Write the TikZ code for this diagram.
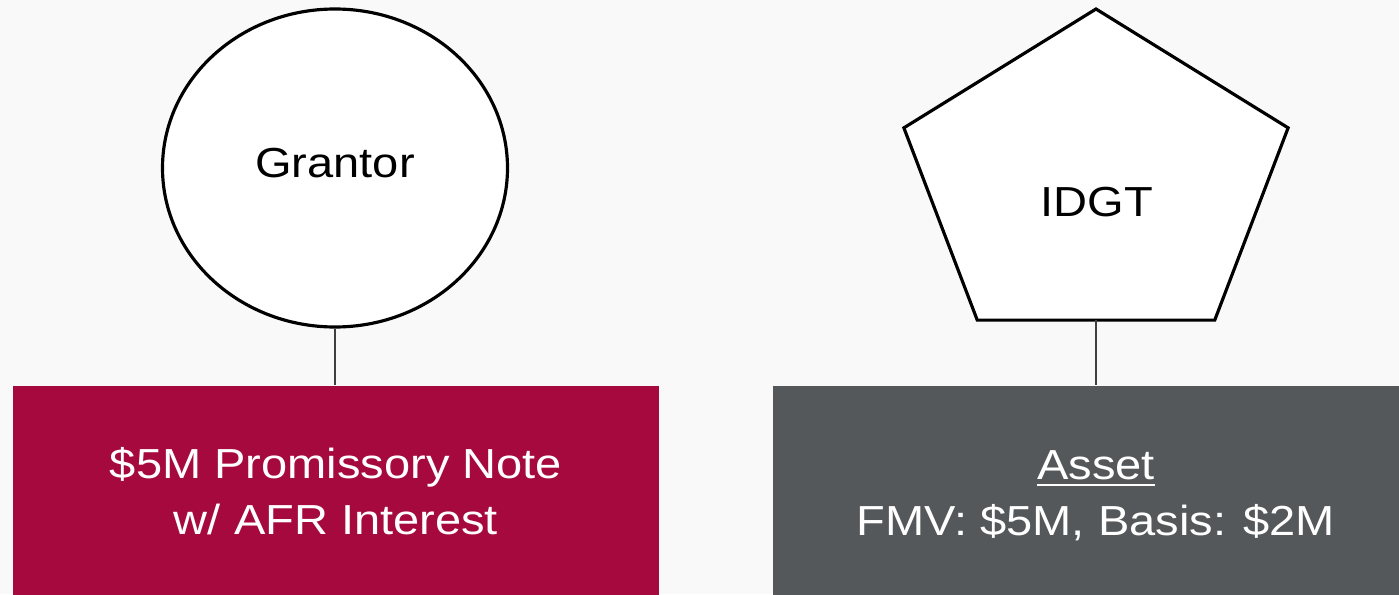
\documentclass[tikz,border=0pt]{standalone}
\usepackage{fontspec}
\setmainfont{Liberation Sans}[FakeStretch=1.12]
\usetikzlibrary{shapes.geometric}
\definecolor{noteRed}{HTML}{A6093D}
\definecolor{assetGray}{HTML}{54585A}
\definecolor{pageGray}{HTML}{F9F9F9}

\begin{document}
\begin{tikzpicture}[
    every node/.style={font=\fontsize{11.95}{15.9}\selectfont},
    outline/.style={draw=black, line width=0.9pt, fill=white},
    link/.style={draw=black!75, line width=0.45pt},
    block/.style={inner sep=0pt, minimum width=6.46cm, text=white, align=center}
]
    % Page background and size
    \fill[pageGray] (0,0) rectangle (13.99,5.94);
    \useasboundingbox (0,0) rectangle (13.99,5.94);

    % Grantor
    \node[outline, ellipse, minimum width=3.45cm, minimum height=3.18cm, inner sep=0pt,
          text height=0.31cm, text depth=0.13cm] (grantor) at (3.35,4.26) {Grantor};

    % IDGT - pentagon drawn around its centre
    \begin{scope}[shift={(10.96,4.13)}]
        \draw[outline] (90:2.02 and 1.72) \foreach \a in {162,234,306,18} {-- (\a:2.02 and 1.72)} -- cycle;
        \coordinate (idgtfoot) at (0,-1.39);
    \end{scope}
    \node[anchor=base] (idgt) at (10.97,3.77) {IDGT};

    % Bottom blocks
    \node[block, fill=noteRed, minimum height=2.11cm] (note) at (3.36,1.025)
        {\$5M Promissory Note\\w/ AFR Interest};
    \node[block, fill=assetGray, minimum height=2.2cm] (asset) at (10.96,0.98)
        {\underline{Asset}\\FMV: \$5M, Basis: \$2M};

    % Connectors
    \draw[link] (grantor.south) -- (grantor.south |- note.north);
    \draw[link] (idgtfoot) -- (idgtfoot |- asset.north);
\end{tikzpicture}
\end{document}
